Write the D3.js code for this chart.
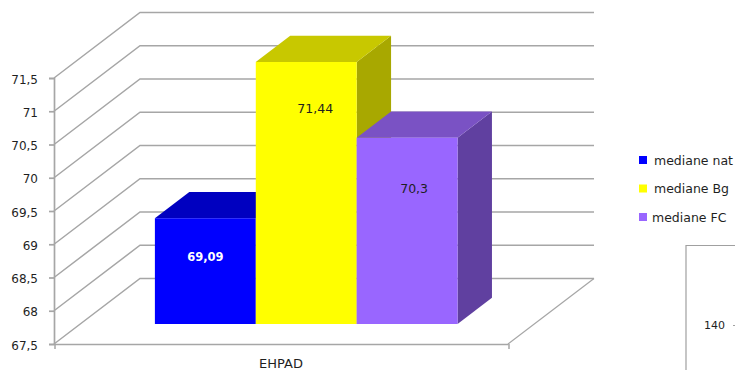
<!DOCTYPE html>
<html>
<head>
<meta charset="utf-8">
<title>EHPAD</title>
<script src="https://cdnjs.cloudflare.com/ajax/libs/d3/7.8.5/d3.min.js"></script>
<style>
  html, body { margin: 0; padding: 0; background: #fff; }
  svg { display: block; }
  text { font-family: "DejaVu Sans", sans-serif; font-size: 12px; fill: #1f1f1f; }
</style>
</head>
<body>
<div id="chart"></div>
<script>
// DATA //
const categories = ["EHPAD"];
const seriesNames = ["mediane nat", "mediane Bg", "mediane FC"];
const seriesValues = [69.09, 71.44, 70.3];
const yTicks = [67.5, 68, 68.5, 69, 69.5, 70, 70.5, 71, 71.5];

// STYLE //
const faceColors = ["#0000ff", "#ffff00", "#9966ff"];
const topColors = ["#0000c0", "#c8c800", "#7a52c4"];
const sideColors = ["#0000a0", "#a8a800", "#6040a0"];
const labelColors = ["#ffffff", "#1f1f1f", "#1f1f1f"];
const gridColor = "#a6a6a6";

const svg = d3.select("#chart").append("svg")
    .attr("width", 735)
    .attr("height", 370);

// SCALES //
const yScale = d3.scaleLinear().domain([67.5, 71.5]).range([344, 78]);
const xCat = d3.scaleBand().domain(categories).range([54, 508]);
const xBar = d3.scaleBand().domain(seriesNames).range([53, 507]).paddingOuter(0.75);

// the box recedes up and to the right, t=0 front edge, t=1 back wall
const depthX = 86, depthY = -65.5;
const pt = (x, v, t) => [x + depthX * t, yScale(v) + depthY * t];
const line = d3.line();

// WALLS //
const grid = svg.append("g")
    .attr("fill", "none")
    .attr("stroke", gridColor)
    .attr("stroke-width", 1.5);

yTicks.forEach(v => {
    grid.append("path").attr("d", line([pt(54, v, 0), pt(54, v, 1), pt(508, v, 1)]));
});

// floor edge on the right
grid.append("path").attr("d", line([pt(508, 67.5, 0), pt(508, 67.5, 1)])).attr("stroke-width", 1.2);

// AXES //
const yAxis = svg.append("g")
    .attr("transform", "translate(54,0)")
    .call(d3.axisLeft(yScale)
        .tickValues(yTicks)
        .tickSize(5)
        .tickPadding(11)
        .tickFormat(d => String(d).replace(".", ",")));
yAxis.selectAll("path, line").attr("stroke", gridColor).attr("stroke-width", 1.7);
yAxis.selectAll("text").attr("dy", "0.42em").attr("font-family", null).attr("font-size", null);

const xAxis = svg.append("g")
    .attr("transform", "translate(0,344)")
    .call(d3.axisBottom(xCat).tickSize(0).tickPadding(15));
xAxis.select("path").attr("stroke", gridColor).attr("stroke-width", 1.7);
xAxis.selectAll("text")
    .attr("font-family", null)
    .attr("font-size", null)
    .style("font-size", "13px");

// end ticks of the category axis
svg.append("g")
    .attr("stroke", gridColor)
    .attr("stroke-width", 1.5)
    .selectAll("line")
    .data(xCat.range())
    .join("line")
    .attr("x1", d => d + 1)
    .attr("x2", d => d + 1)
    .attr("y1", 344)
    .attr("y2", 349);

// BARS //
const t0 = 0.305, t1 = 0.705;
const bars = svg.append("g")
    .selectAll("g")
    .data(seriesNames.map((name, i) => ({ name, i, value: seriesValues[i] })))
    .join("g");

const poly = pts => line(pts) + "Z";

bars.append("path") // side
    .attr("fill", d => sideColors[d.i])
    .attr("d", d => {
        const r = xBar(d.name) + xBar.bandwidth();
        return poly([pt(r, 67.5, t0), pt(r, 67.5, t1), pt(r, d.value, t1), pt(r, d.value, t0)]);
    });

bars.append("path") // top
    .attr("fill", d => topColors[d.i])
    .attr("d", d => {
        const l = xBar(d.name), r = l + xBar.bandwidth();
        return poly([pt(l, d.value, t0), pt(l, d.value, t1), pt(r, d.value, t1), pt(r, d.value, t0)]);
    });

bars.append("path") // front
    .attr("fill", d => faceColors[d.i])
    .attr("d", d => {
        const l = xBar(d.name), r = l + xBar.bandwidth();
        return poly([pt(l, 67.5, t0), pt(l, d.value, t0), pt(r, d.value, t0), pt(r, 67.5, t0)]);
    });

// value labels sit in the upper part of each front face, not quite centred
const labelDx = [0, 9, 7];
const labelDy = [39, 46, 51];
bars.append("text")
    .attr("text-anchor", "middle")
    .attr("dominant-baseline", "central")
    .attr("x", d => pt(xBar(d.name) + xBar.bandwidth() / 2, d.value, t0)[0] + labelDx[d.i])
    .attr("y", d => pt(0, d.value, t0)[1] + labelDy[d.i])
    .style("fill", d => labelColors[d.i])
    .style("font-weight", d => d.i === 0 ? "bold" : null)
    .style("font-size", d => d.i === 0 ? "11.5px" : "12.5px")
    .text(d => String(d.value).replace(".", ","));

// LEGEND //
const legendY = d3.scalePoint().domain(seriesNames).range([160, 217]);
const legend = svg.append("g")
    .selectAll("g")
    .data(seriesNames)
    .join("g")
    .attr("transform", d => `translate(639,${legendY(d)})`);

legend.append("rect")
    .attr("y", -4)
    .attr("width", 8)
    .attr("height", 8)
    .attr("fill", (d, i) => faceColors[i]);

legend.append("text")
    .attr("x", (d, i) => i === 2 ? 13 : 15)
    .attr("dominant-baseline", "central")
    .style("font-size", "12.5px")
    .text(d => d);

// NEXT CHART, cut off at the right edge //
svg.append("path")
    .attr("d", line([[686, 370], [686, 245.5], [735, 245.5]]))
    .attr("fill", "none")
    .attr("stroke", "#a0a0a0")
    .attr("stroke-width", 1.2);
svg.append("text")
    .attr("x", 725)
    .attr("y", 325)
    .attr("text-anchor", "end")
    .attr("dominant-baseline", "central")
    .style("font-size", "11px")
    .text("140");
svg.append("line")
    .attr("x1", 733).attr("x2", 735)
    .attr("y1", 325.5).attr("y2", 325.5)
    .attr("stroke", "#a0a0a0");
</script>
</body>
</html>
